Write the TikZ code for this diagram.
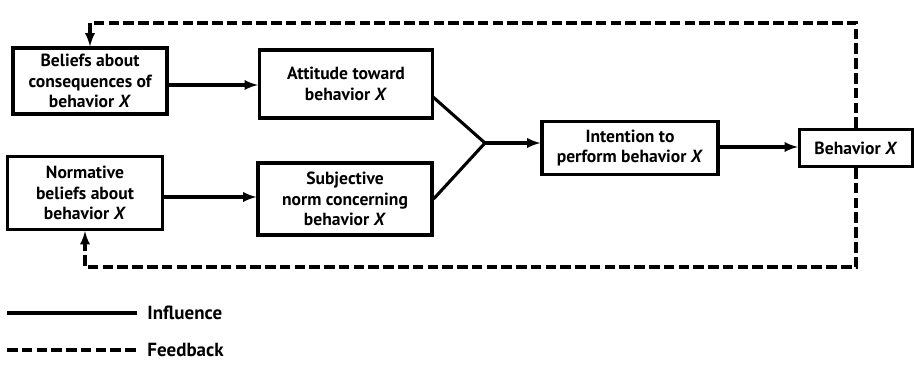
\documentclass[tikz,border=0pt]{standalone}
\usepackage{fontspec}
\setmainfont{PT Sans}
\usepackage{tikz}
\usetikzlibrary{arrows}

\begin{document}
\begin{tikzpicture}[x=0.025cm, y=-0.025cm,
    box/.style={draw, line width=2.2pt, align=center, inner sep=1pt,
        font=\bfseries\fontsize{12.5}{14.5}\selectfont},
    influence/.style={line width=2.2pt},
    feedback/.style={line width=2.2pt, dash pattern=on 7.5pt off 3pt},
    legend/.style={font=\bfseries\fontsize{13.5}{15}\selectfont, anchor=west}]
            \useasboundingbox (0,0) rectangle (915,365);
            % the boxes
            \node (beliefs) at (90,81) [box, minimum width=3.85cm, minimum height=1.65cm] {Beliefs about\\consequences of\\behavior \textit{X}};
            \node (attitude) at (346,84) [box, minimum width=4.33cm, minimum height=1.7cm] {Attitude toward\\behavior \textit{X}};
            \node (normative) at (85,193) [box, minimum width=3.88cm, minimum height=1.83cm] {Normative\\beliefs about\\behavior \textit{X}};
            \node (subjective) at (345,199) [box, minimum width=4.35cm, minimum height=1.8cm] {Subjective\\norm concerning\\behavior \textit{X}};
            \node (intention) at (630,148) [box, minimum width=4.4cm, minimum height=1.33cm] {Intention to\\perform behavior \textit{X}};
            \node (behavior) at (856,148) [box, minimum width=2.83cm, minimum height=0.93cm] {Behavior \textit{X}};
            % influence
            \coordinate (merge) at (485,143);
            \coordinate (attout) at (433,97);
            \draw [influence,-latex] (beliefs.east |- 0,85) -- (attitude.west |- 0,85);
            \draw [influence,-latex] (normative.east |- 0,197) -- (subjective.west |- 0,197);
            \draw [influence] (attout) -- (merge) -- (subjective.east);
            \draw [influence,-latex] (merge) -- (intention.west |- merge);
            \draw [influence,-latex] (intention.east |- 0,147) -- (behavior.west |- 0,147);
            % feedback
            \coordinate (fbtop) at (90,23);
            \coordinate (fbbot) at (85,267);
            \draw [feedback,-latex] (behavior.north) |- (fbtop) -- (beliefs.north);
            \draw [feedback,-latex] (behavior.south) |- (fbbot) -- (normative.south);
            % legend
            \coordinate (inf) at (7,313);
            \coordinate (fb) at (7,350);
            \draw [influence] (inf) -- ++(130,0) node[legend, right=3pt] {Influence};
            \draw [feedback] (fb) -- ++(130,0) node[legend, right=3pt] {Feedback};
        \end{tikzpicture}
\end{document}
